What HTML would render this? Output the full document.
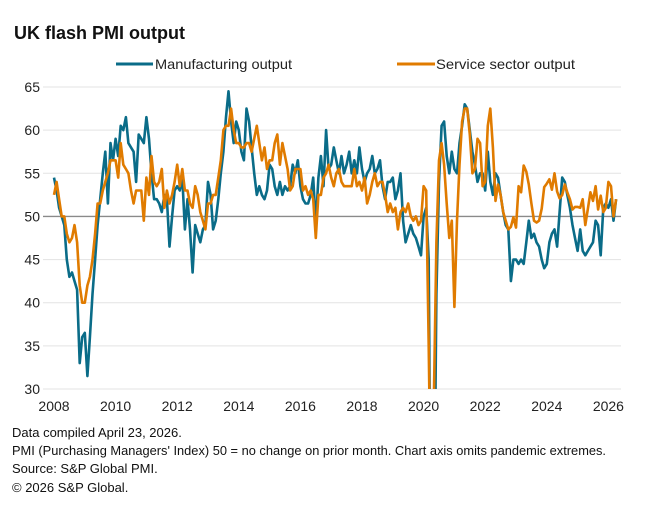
<!DOCTYPE html>
<html style="margin:0;overflow:hidden;width:654px;height:530px"><head><meta charset="utf-8"><style>
body{margin:0;background:#fff;width:654px;height:530px;overflow:hidden;font-family:"Liberation Sans",Arial,sans-serif;}
svg{display:block}
</style></head><body>
<svg id="chart" width="654" height="530">
<defs><clipPath id="pc"><rect x="40" y="80" width="600" height="309"/></clipPath></defs>
<text x="14" y="39" font-size="18" font-weight="bold" fill="#111">UK flash PMI output</text>
<g>
<line x1="116" y1="64" x2="153" y2="64" stroke="#0a6c88" stroke-width="3"/>
<text x="155" y="69" font-size="14" fill="#222" textLength="137" lengthAdjust="spacingAndGlyphs">Manufacturing output</text>
<line x1="397" y1="64" x2="435" y2="64" stroke="#e07b00" stroke-width="3"/>
<text x="436" y="69" font-size="14" fill="#222" textLength="139" lengthAdjust="spacingAndGlyphs">Service sector output</text>
</g>
<g id="grid"></g>
<g id="series" clip-path="url(#pc)"></g>
<g id="axes"></g>
<g font-size="13" fill="#111">
<text x="12" y="437">Data compiled April 23, 2026.</text>
<text x="12" y="455" textLength="594" lengthAdjust="spacingAndGlyphs">PMI (Purchasing Managers' Index) 50 = no change on prior month. Chart axis omits pandemic extremes.</text>
<text x="12" y="473">Source: S&amp;P Global PMI.</text>
<text x="12" y="492">© 2026 S&amp;P Global.</text>
</g>
</svg>
<script>
const yTicks=[30,35,40,45,50,55,60,65];
const xTicks=[2008,2010,2012,2014,2016,2018,2020,2022,2024,2026];
const manufacturing=[
54.5,53,51,50,49,45,43,43.5,42.5,41.5,33,36,
36.5,31.5,36,41,45,49,52,55,57.5,51.5,58.5,56.5,
59,57,60.5,60,61.5,58.5,58,57.5,54,59.5,59,58.5,
61.5,59,55,52,52,51.5,50.5,52.5,52,46.5,50,53,
53.5,53,54.5,48.5,52,48.5,43.5,49,48,47,48.5,49,
54,52.5,48.5,49.5,52,55,57.5,61.5,64.5,61,58.5,61,
60,57.5,56.5,62.5,61,58,55,52.5,53.5,52.5,52,53,
56,55.5,53.5,52.5,54,52.5,53.5,53,53.5,56,55,56.5,
53.5,52,51.5,51.5,52.5,54.5,49,54.5,57,53.5,60,55.5,
56,58,56.5,55,57,55,56,57.5,55,56.5,55,58,
55.5,54,55,55.5,57,55,55.5,56.5,53.5,52,54,54,
54.5,52,53,55,49.5,47,48,49,48,47.5,46.5,45.5,
50,51,45,3,10,41,54,60.5,61,57,55,57.5,
55.5,55,58.5,60.5,63,62.5,60,57.5,56,54,55,55,
53,57.5,54,52.5,55,54.5,52.5,50.5,49,48.5,42.5,45,
45,44.5,45,44.5,47,49.5,47.5,48,47,46.5,45,44,
44.5,47,48,48.5,46.5,50.5,54.5,54,52.5,51,49,47.5,
46,48.5,46,45.5,46,46.5,47,49.5,49,45.5,51,51.5,
51,52,49.5,52];
const services=[
52.5,54,52,50,50,48,47,47.5,49,47,42,40,
40,42,43,45,48,51.5,51.5,53,54,55,56.5,56.5,
56.5,54.5,58.5,56,55.5,55,53,51.5,53,53,53,49.5,
54.5,52.5,57,54,53.5,54,55.5,51,53,51.5,52.5,54,
56,53.5,55.5,53,53,51.5,51,53.5,52.5,50.5,49.5,48.5,
51.5,51.5,52.5,52.5,54.5,56.5,60,60.5,60.5,62.5,60,58.5,
58.5,58,58,58.5,58.5,57.5,59,60.5,58.5,56.5,58,55.5,
56.5,56.5,58.5,59.5,56,58.5,57,55.5,53,53.5,55.5,55.5,
55.5,53,53.5,52.5,53,52,47.5,52.5,52.5,54.5,55,56,
54.5,53.5,55,55.5,54,53.5,53.5,53.5,53.5,55.5,53.5,54,
53,54.5,51.5,52.5,54,55,53.5,54,54,52.5,50.5,51.5,
50.5,51,48.5,50.5,51,50.5,51.5,50,49.5,50,49,49.5,
53.5,53,35,13,29,47,56.5,58.5,56,51.5,47.5,49.5,
39.5,49.5,56,61,62.5,62.5,59.5,55,55.5,59,58.5,53.5,
54,60.5,62.5,58,51.8,53.7,52.5,50.5,49.5,48.5,48.8,49.9,
48.7,53.5,52.8,55.9,55.2,53.7,51.5,49.5,49.3,49.5,50.9,53.4,
53.8,54.3,53.1,55,52.9,52.1,52.5,53.7,52.8,52,50.8,51.1,
51.1,51,52,49,50.9,52.8,51.8,53.5,50.8,52.4,50.5,51,
54,53.5,50,52];
const NS='http://www.w3.org/2000/svg';
const X0=54,YEARPX=30.8,Y65=87,Y30=389;
function xs(t){return X0+(t-2008)*YEARPX;}
function ys(v){return Y30-(v-30)*(Y30-Y65)/35;}
function mk(tag,attrs,parent){const e=document.createElementNS(NS,tag);for(const k in attrs)e.setAttribute(k,attrs[k]);parent.appendChild(e);return e;}
const grid=document.getElementById('grid'),axes=document.getElementById('axes'),ser=document.getElementById('series');
yTicks.forEach(v=>{
 const l=mk('line',{x1:43,x2:621,y1:ys(v),y2:ys(v),stroke:v===50?'#8a8a8a':'#e3e3e3','stroke-width':v===50?1.3:1},grid);
 
 
 const t=mk('text',{x:40,y:ys(v)+5,'text-anchor':'end','font-size':14,fill:'#222'},axes);
 t.textContent=v;
 
 
});
xTicks.forEach(yr=>{
 const t=mk('text',{x:xs(yr),y:411,'text-anchor':'middle','font-size':14,fill:'#222'},axes);
 t.textContent=yr;
 
 
});
function draw(data,color,name){
 const pts=data.map((v,i)=>xs(2008+i/12).toFixed(1)+','+ys(v).toFixed(1)).join(' ');
 const p=mk('polyline',{points:pts,fill:'none',stroke:color,'stroke-width':2.6,'stroke-linejoin':'round'},ser);
 
 
}
draw(manufacturing,'#0a6c88','manufacturing-line');
draw(services,'#e07b00','services-line');
</script>
</body></html>
